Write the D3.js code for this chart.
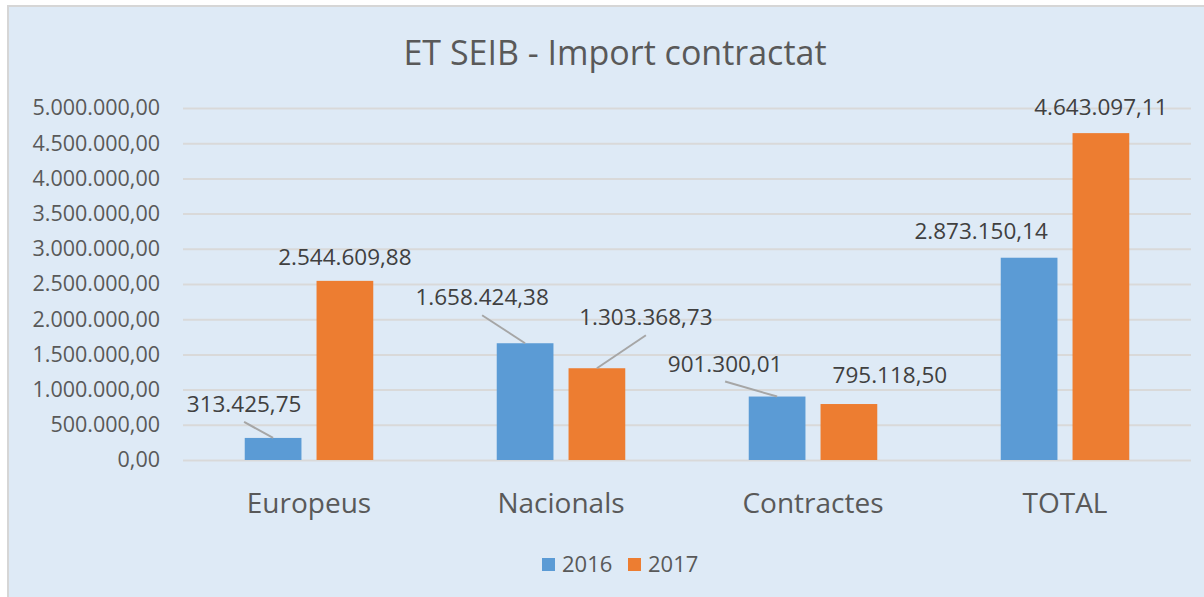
<html>
<head>
<script src="https://d3js.org/d3.v7.min.js"></script>
<style>
  body { margin: 0; background: #fff; }
  text { font-family: "Open Sans", sans-serif; }
</style>
</head>
<body>
<script>
// data
var categories = ["Europeus", "Nacionals", "Contractes", "TOTAL"];
var seriesNames = ["2016", "2017"];
var values2016 = [313425.75, 1658424.38, 901300.01, 2873150.14];
var values2017 = [2544609.88, 1303368.73, 795118.50, 4643097.11];
var yTicks = [0, 500000, 1000000, 1500000, 2000000, 2500000, 3000000, 3500000, 4000000, 4500000, 5000000];

// where excel moved the data labels (dx, dy from bar top centre), and whether a leader line is drawn
var labelPos2016 = [[-29, -26, true], [-43, -38, true], [-52, -25, true], [-48, -19, false]];
var labelPos2017 = [[0, -16, false], [49, -43, true], [41, -21, false], [0, -18, false]];

var colors = {"2016": "#5b9bd5", "2017": "#ed7d31"};

(function() {
var W = 1204, H = 597;
var svg = d3.select("body").append("svg").attr("width", W).attr("height", H);

// chart area background
svg.append("rect")
  .attr("x", 8).attr("y", 6).attr("width", W).attr("height", H)
  .attr("fill", "#deeaf6").attr("stroke", "#d6d6d6").attr("stroke-width", 2);

var pLeft = 183, pRight = 1191, pTop = 108, pBottom = 460;

var x0 = d3.scaleBand().domain(categories).range([pLeft, pRight]).paddingInner(0.49).paddingOuter(0.245);
var x1 = d3.scaleBand().domain(seriesNames).range([0, x0.bandwidth()]).paddingInner(0.21);
var y = d3.scaleLinear().domain([0, 5000000]).range([pBottom, pTop]);

var fmt = d3.formatLocale({decimal: ",", thousands: ".", grouping: [3], currency: ["", ""]}).format(",.2f");

// title
svg.append("text")
  .attr("x", 615).attr("y", 65)
  .attr("text-anchor", "middle")
  .attr("fill", "#595959")
  .style("font-size", "34px")
  .text("ET SEIB - Import contractat");

// gridlines + y axis
var yAxis = svg.append("g")
  .attr("transform", "translate(" + pLeft + ",0)")
  .call(d3.axisLeft(y).tickValues(yTicks).tickSize(-(pRight - pLeft)).tickPadding(23).tickFormat(fmt));
yAxis.select(".domain").remove();
yAxis.selectAll(".tick line").attr("stroke", "#d9d9d9").attr("stroke-width", 2);
yAxis.selectAll(".tick text").attr("fill", "#595959").style("font-size", "21.5px");

// category labels
svg.append("g").selectAll("text")
  .data(categories)
  .enter().append("text")
  .attr("x", function(d) { return x0(d) + x0.bandwidth() / 2; })
  .attr("y", 513)
  .attr("text-anchor", "middle")
  .attr("fill", "#595959")
  .style("font-size", "28px")
  .text(function(d) { return d; });

var rows = [];
categories.forEach(function(c, i) {
  rows.push({cat: c, s: "2016", v: values2016[i], pos: labelPos2016[i]});
  rows.push({cat: c, s: "2017", v: values2017[i], pos: labelPos2017[i]});
});

function cx(d) { return x0(d.cat) + x1(d.s) + x1.bandwidth() / 2; }

// bars
svg.append("g").selectAll("rect")
  .data(rows)
  .enter().append("rect")
  .attr("x", function(d) { return x0(d.cat) + x1(d.s); })
  .attr("y", function(d) { return y(d.v); })
  .attr("width", x1.bandwidth())
  .attr("height", function(d) { return pBottom - y(d.v); })
  .attr("fill", function(d) { return colors[d.s]; });

// leader lines
svg.append("g").selectAll("line")
  .data(rows.filter(function(d) { return d.pos[2]; }))
  .enter().append("line")
  .attr("x1", function(d) { return cx(d) + d.pos[0]; })
  .attr("y1", function(d) { return y(d.v) + d.pos[1] + 10; })
  .attr("x2", function(d) { return cx(d); })
  .attr("y2", function(d) { return y(d.v); })
  .attr("stroke", "#a6a6a6").attr("stroke-width", 2);

// data labels
svg.append("g").selectAll("text")
  .data(rows)
  .enter().append("text")
  .attr("x", function(d) { return cx(d) + d.pos[0]; })
  .attr("y", function(d) { return y(d.v) + d.pos[1]; })
  .attr("text-anchor", "middle")
  .attr("fill", "#404040")
  .style("font-size", "22.5px")
  .text(function(d) { return fmt(d.v); });

// legend
var legend = svg.append("g").selectAll("g")
  .data(seriesNames)
  .enter().append("g")
  .attr("transform", function(d, i) { return "translate(" + (542 + i * 86) + ",558)"; });
legend.append("rect").attr("width", 13).attr("height", 13).attr("fill", function(d) { return colors[d]; });
legend.append("text")
  .attr("x", 20).attr("y", 14)
  .attr("fill", "#595959")
  .style("font-size", "22px")
  .text(function(d) { return d; });
})();
</script>
</body>
</html>
